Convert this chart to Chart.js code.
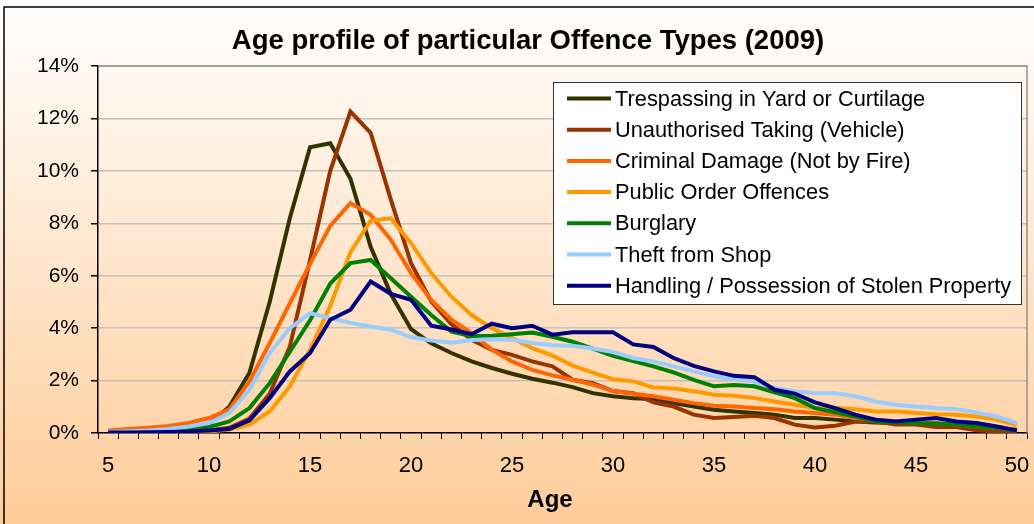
<!DOCTYPE html>
<html>
<head>
<meta charset="utf-8">
<script src="https://cdn.jsdelivr.net/npm/chart.js@4.4.1/dist/chart.umd.min.js"></script>
<style>
  body { margin: 0; background: #fff; }
  canvas { display: block; }
</style>
</head>
<body>
<canvas id="ageChart" width="1034" height="524"></canvas>
<script>
// ages on the x axis (one category per year)
const ages = [5, 6, 7, 8, 9, 10, 11, 12, 13, 14, 15, 16, 17, 18, 19, 20, 21, 22, 23, 24, 25, 26, 27,
    28, 29, 30, 31, 32, 33, 34, 35, 36, 37, 38, 39, 40, 41, 42, 43, 44, 45, 46, 47, 48, 49, 50];

const chartTitle = 'Age profile of particular Offence Types (2009)';
const xTitle = 'Age';

const seriesNames = [
    'Trespassing in Yard or Curtilage',
    'Unauthorised Taking (Vehicle)',
    'Criminal Damage (Not by Fire)',
    'Public Order Offences',
    'Burglary',
    'Theft from Shop',
    'Handling / Possession of Stolen Property'
];

// % of offenders at each age
const trespassing = [0.02, 0.03, 0.05, 0.08, 0.15, 0.35, 1.0, 2.3, 5.0, 8.2, 10.9, 11.05, 9.7, 7.1, 5.3, 3.96,
    3.42, 3.05, 2.73, 2.48, 2.26, 2.07, 1.92, 1.75, 1.52, 1.4, 1.33, 1.3, 1.14, 1.01, 0.89, 0.82, 0.76, 0.7,
    0.57, 0.57, 0.51, 0.44, 0.4, 0.38, 0.34, 0.3, 0.25, 0.19, 0.13, 0.06];
const unauthorised = [0.01, 0.01, 0.02, 0.03, 0.05, 0.1, 0.2, 0.55, 1.5, 3.3, 6.6, 10.0, 12.26, 11.45, 8.9, 6.48,
    5.02, 4.15, 3.56, 3.17, 2.98, 2.73, 2.54, 2.03, 1.9, 1.6, 1.52, 1.17, 1.01, 0.7, 0.57, 0.61, 0.66, 0.57,
    0.32, 0.21, 0.28, 0.44, 0.44, 0.32, 0.32, 0.23, 0.23, 0.1, 0.06, 0.06];
const criminalDamage = [0.1, 0.15, 0.2, 0.27, 0.38, 0.57, 0.9, 1.97, 3.43, 4.95, 6.45, 7.9, 8.77, 8.32, 7.37, 6.1,
    5.08, 4.32, 3.81, 3.17, 2.73, 2.41, 2.2, 2.03, 1.85, 1.6, 1.5, 1.4, 1.27, 1.14, 1.04, 1.01, 0.95, 0.91,
    0.82, 0.76, 0.7, 0.57, 0.51, 0.44, 0.4, 0.38, 0.32, 0.25, 0.19, 0.13];
const publicOrder = [0.02, 0.02, 0.02, 0.03, 0.04, 0.06, 0.13, 0.32, 0.82, 1.78, 3.17, 4.85, 6.9, 8.1, 8.19, 7.24,
    6.1, 5.2, 4.5, 4.0, 3.62, 3.24, 2.95, 2.57, 2.3, 2.05, 1.97, 1.74, 1.7, 1.59, 1.46, 1.42, 1.33, 1.2,
    1.08, 0.95, 0.95, 0.91, 0.82, 0.82, 0.76, 0.72, 0.7, 0.63, 0.51, 0.3];
const burglary = [0.05, 0.05, 0.06, 0.08, 0.12, 0.23, 0.44, 0.95, 1.9, 3.1, 4.3, 5.7, 6.48, 6.6, 5.9, 5.2,
    4.5, 3.87, 3.7, 3.71, 3.77, 3.83, 3.67, 3.48, 3.22, 2.94, 2.74, 2.54, 2.31, 2.03, 1.78, 1.83, 1.78, 1.55,
    1.33, 0.95, 0.79, 0.63, 0.44, 0.4, 0.38, 0.36, 0.32, 0.25, 0.19, 0.1];
const theftFromShop = [0.05, 0.07, 0.1, 0.15, 0.25, 0.38, 0.76, 1.65, 3.05, 4.0, 4.57, 4.38, 4.2, 4.06, 3.94, 3.66,
    3.53, 3.44, 3.55, 3.58, 3.56, 3.43, 3.35, 3.33, 3.22, 3.09, 2.86, 2.73, 2.54, 2.35, 2.16, 2.06, 1.97, 1.72,
    1.59, 1.52, 1.52, 1.4, 1.2, 1.08, 1.01, 0.95, 0.91, 0.78, 0.63, 0.38];
const handling = [0.02, 0.02, 0.03, 0.04, 0.06, 0.1, 0.15, 0.48, 1.33, 2.35, 3.05, 4.32, 4.7, 5.78, 5.31, 5.08,
    4.09, 3.95, 3.77, 4.17, 4.0, 4.09, 3.75, 3.84, 3.84, 3.84, 3.38, 3.28, 2.86, 2.56, 2.35, 2.18, 2.13, 1.65,
    1.5, 1.17, 0.95, 0.7, 0.51, 0.44, 0.51, 0.57, 0.44, 0.38, 0.25, 0.1];

const seriesColors = ['#333300', '#993300', '#FF6600', '#FF9900', '#008000', '#99CCFF', '#000080'];
const allSeries = [trespassing, unauthorised, criminalDamage, publicOrder, burglary, theftFromShop, handling];

const FONT = '"Liberation Sans", Arial, sans-serif';

// background, frame, title, legend box - drawn by hand like the excel original
const decor = {
    id: 'decor',
    beforeDraw(chart) {
        const ctx = chart.ctx;
        const grad = ctx.createLinearGradient(0, 0, 0, chart.height);
        grad.addColorStop(0, '#FFFFFF');
        grad.addColorStop(1, '#FFCC99');
        ctx.save();
        ctx.fillStyle = grad;
        ctx.fillRect(0, 0, chart.width, chart.height);
        ctx.strokeStyle = '#000';
        ctx.lineWidth = 1.5;
        ctx.strokeRect(4, 7, chart.width + 20, chart.height + 20);
        ctx.restore();
    },
    beforeDatasetsDraw(chart) {
        const a = chart.chartArea;
        const ctx = chart.ctx;
        ctx.save();
        ctx.strokeStyle = '#909090';
        ctx.lineWidth = 1.5;
        ctx.beginPath();
        ctx.moveTo(a.left, a.top);
        ctx.lineTo(a.right, a.top);
        ctx.lineTo(a.right, a.bottom);
        ctx.stroke();
        ctx.restore();
    },
    afterDraw(chart) {
        const ctx = chart.ctx;
        ctx.save();
        ctx.fillStyle = '#000';
        ctx.textAlign = 'center';
        ctx.textBaseline = 'middle';
        ctx.font = 'bold 27.5px ' + FONT;
        ctx.fillText(chartTitle, 528, 41);
        ctx.font = 'bold 24px ' + FONT;
        ctx.fillText(xTitle, 550, 500);

        // legend
        const box = { x: 553, y: 82, w: 468, h: 222 };
        ctx.fillStyle = '#fff';
        ctx.fillRect(box.x, box.y, box.w, box.h);
        ctx.strokeStyle = '#333';
        ctx.lineWidth = 1;
        ctx.strokeRect(box.x + 0.5, box.y + 0.5, box.w, box.h);
        ctx.textAlign = 'left';
        ctx.font = '21.8px ' + FONT;
        chart.data.datasets.forEach((ds, i) => {
            const y = 98.5 + i * 31.2;
            ctx.strokeStyle = ds.borderColor;
            ctx.lineWidth = 4;
            ctx.beginPath();
            ctx.moveTo(567, y);
            ctx.lineTo(611, y);
            ctx.stroke();
            ctx.fillStyle = '#000';
            ctx.fillText(ds.label, 615, y + 1);
        });
        ctx.restore();
    }
};

const datasets = allSeries.map((values, i) => ({
    label: seriesNames[i],
    data: values,
    borderColor: seriesColors[i],
    backgroundColor: seriesColors[i],
    borderWidth: 4,
    pointRadius: 0,
    tension: 0,
    fill: false,
    order: allSeries.length - i // later series on top, as in the original
}));

const ctx = document.getElementById('ageChart').getContext('2d');
const ageChart = new Chart(ctx, {
    type: 'line',
    data: {
        labels: ages,
        datasets: datasets
    },
    options: {
        responsive: false,
        animation: false,
        layout: { padding: { top: 66, right: 7, left: 0, bottom: 0 } },
        plugins: {
            legend: { display: false },
            title: { display: false },
            tooltip: { enabled: false }
        },
        scales: {
            x: {
                type: 'category',
                offset: true,
                grid: { offset: true, drawOnChartArea: false, tickLength: 6, tickColor: '#000', tickWidth: 1 },
                border: { color: '#000', width: 1.5 },
                ticks: {
                    autoSkip: false,
                    maxRotation: 0,
                    padding: 14,
                    color: '#000',
                    font: { family: FONT, size: 22 },
                    callback: (val, i) => (ages[i] % 5 === 0 ? String(ages[i]) : '')
                },
                afterFit: (scale) => {
                    scale.height = 91;
                    // labels sit inside their categories, no extra side room needed
                    scale.paddingLeft = 0;
                    scale.paddingRight = 0;
                }
            },
            y: {
                min: 0,
                max: 14,
                grid: { color: '#C0C0C0', lineWidth: 1.5, tickColor: '#000', tickLength: 7 },
                border: { color: '#000', width: 1.5 },
                ticks: {
                    stepSize: 2,
                    padding: 12,
                    color: '#000',
                    font: { family: FONT, size: 21 },
                    callback: (v) => v + '%'
                },
                afterFit: (scale) => { scale.width = 98; }
            }
        }
    },
    plugins: [decor]
});
</script>
</body>
</html>
